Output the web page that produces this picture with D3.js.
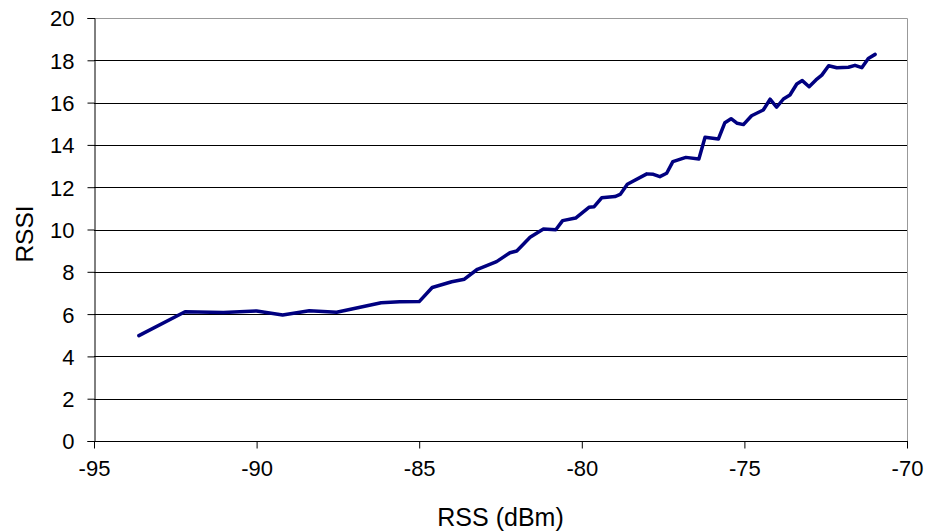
<!DOCTYPE html>
<html>
<head>
<meta charset="utf-8">
<script src="https://cdn.jsdelivr.net/npm/d3@7"></script>
<style>
  html, body { margin: 0; padding: 0; background: #fff; }
  svg { display: block; font-family: "Liberation Sans", Arial, sans-serif; }
</style>
</head>
<body>
<svg id="chart" width="927" height="531"></svg>
<script>
// Measured RSS (dBm) against reported RSSI
const rss = [
  -93.62, -92.20, -91.02, -90.00, -89.20, -88.38, -87.54, -86.17, -85.60, -85.00,
  -84.60, -84.00, -83.61, -83.21, -82.62, -82.21, -82.00, -81.59, -81.18, -80.80,
  -80.59, -80.19, -79.78, -79.62, -79.39, -78.98, -78.82, -78.60, -78.00, -77.80,
  -77.60, -77.39, -77.20, -76.80, -76.40, -76.21, -75.80, -75.60, -75.41, -75.22,
  -75.03, -74.78, -74.42, -74.21, -74.01, -73.80, -73.60, -73.39, -73.22, -73.01,
  -72.80, -72.62, -72.41, -72.16, -71.80, -71.60, -71.39, -71.19, -70.98
];
const rssi = [
  4.98, 6.11, 6.07, 6.15, 5.96, 6.16, 6.09, 6.54, 6.58, 6.59,
  7.26, 7.53, 7.65, 8.12, 8.48, 8.90, 8.98, 9.63, 10.02, 9.99,
  10.42, 10.54, 11.05, 11.08, 11.50, 11.56, 11.66, 12.14, 12.63, 12.61,
  12.50, 12.66, 13.21, 13.41, 13.33, 14.36, 14.28, 15.05, 15.24, 15.02,
  14.96, 15.38, 15.65, 16.16, 15.78, 16.17, 16.36, 16.88, 17.04, 16.75,
  17.07, 17.30, 17.74, 17.65, 17.67, 17.76, 17.65, 18.09, 18.28
];
const xTicks = [-95, -90, -85, -80, -75, -70];
const yTicks = [0, 2, 4, 6, 8, 10, 12, 14, 16, 18, 20];

const svg = d3.select("#chart");
const margin = { left: 94, right: 20, top: 18, bottom: 90 };
const W = 927, H = 531;
const x = d3.scaleLinear().domain([-95, -70]).range([margin.left, W - margin.right]);
const y = d3.scaleLinear().domain([0, 20]).range([H - margin.bottom, margin.top]);

// plot area frame (top and right edges)
svg.append("path")
  .attr("d", `M${x(-95)},${y(20) + 0.5}H${x(-70) + 0.5}V${y(0)}`)
  .attr("fill", "none").attr("stroke", "#999").attr("stroke-width", 1);

// horizontal gridlines
svg.append("g").selectAll("line").data(yTicks.filter(d => d > 0 && d < 20)).join("line")
  .attr("x1", x(-95)).attr("x2", x(-70))
  .attr("y1", d => Math.round(y(d)) + 0.5).attr("y2", d => Math.round(y(d)) + 0.5)
  .attr("stroke", "#000").attr("stroke-width", 1);

// axes (plain hyphen-minus for negative labels)
const fmt = d => String(d);
const yAxis = d3.axisLeft(y).tickValues(yTicks).tickFormat(fmt).tickSize(7).tickPadding(13);
const xAxis = d3.axisBottom(x).tickValues(xTicks).tickFormat(fmt).tickSize(7).tickPadding(12);

const gy = svg.append("g").attr("transform", `translate(${x(-95) + 0.5},0)`).call(yAxis);
const gx = svg.append("g").attr("transform", `translate(0,${Math.round(y(0)) + 0.5})`).call(xAxis);
[gx, gy].forEach(g => {
  g.select(".domain").attr("stroke", "#000");
  g.selectAll(".tick line").attr("stroke", "#000");
  g.selectAll(".tick text").attr("fill", "#000")
    .style("font-size", "22px").style("font-family", "'Liberation Sans', Arial, sans-serif");
});
gy.selectAll(".tick text").attr("dy", "0.36em");
gx.select(".domain").attr("d", `M${x(-95)},0H${x(-70) + 1}`);

// data line
svg.append("path")
  .datum(rss.map((v, i) => [v, rssi[i]]))
  .attr("fill", "none")
  .attr("stroke", "#000080")
  .attr("stroke-width", 3.5)
  .attr("stroke-linejoin", "round")
  .attr("stroke-linecap", "round")
  .attr("d", d3.line().x(d => x(d[0])).y(d => y(d[1])));

// axis titles
svg.append("text")
  .attr("x", (x(-95) + x(-70)) / 2).attr("y", 526)
  .attr("text-anchor", "middle").style("font-size", "25px")
  .text("RSS (dBm)");
svg.append("text")
  .attr("transform", `translate(33,234) rotate(-90)`)
  .attr("text-anchor", "middle").style("font-size", "24.5px")
  .text("RSSI");
</script>
</body>
</html>
